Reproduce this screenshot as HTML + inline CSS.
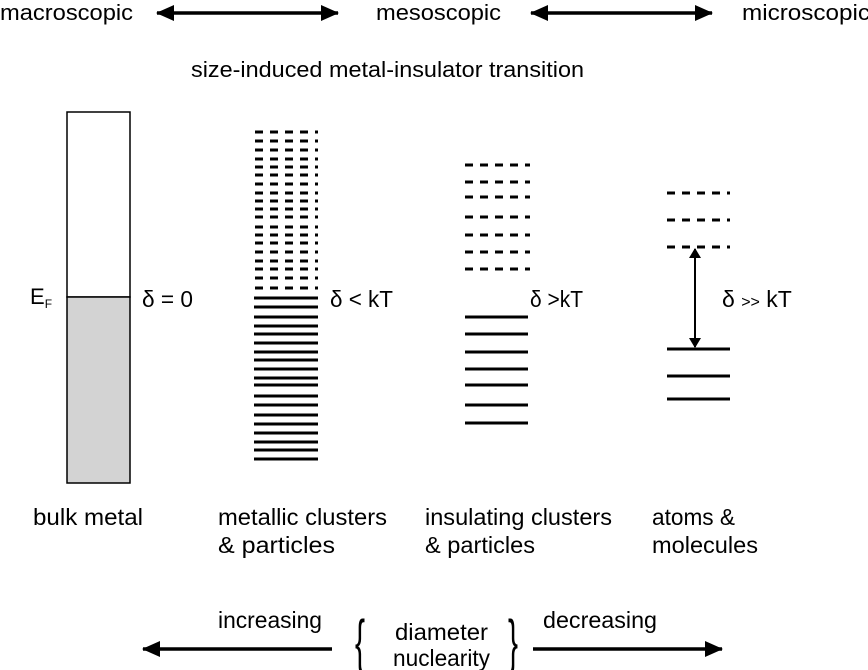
<!DOCTYPE html>
<html><head><meta charset="utf-8"><style>
html,body{margin:0;padding:0;background:#fff}
svg{display:block}
text{font-family:"Liberation Sans",Arial,sans-serif;fill:#000}
</style></head><body>
<svg id="s" width="868" height="670" viewBox="0 0 868 670">
<defs>
<marker id="ah" markerWidth="10" markerHeight="12" refX="9" refY="6" orient="auto-start-reverse" markerUnits="userSpaceOnUse"><path d="M0,0 L10,6 L0,12 z" fill="#000"/></marker>
<marker id="ah2" markerWidth="18" markerHeight="16" refX="17" refY="8" orient="auto-start-reverse" markerUnits="userSpaceOnUse"><path d="M0,0 L18,8 L0,16 z" fill="#000"/></marker>
</defs>
<text x="0" y="20" font-size="22" textLength="133" lengthAdjust="spacingAndGlyphs">macroscopic</text>
<line x1="157" y1="13" x2="338" y2="13" stroke="#000" stroke-width="3.5" marker-start="url(#ah2)" marker-end="url(#ah2)"/>
<text x="376" y="20" font-size="22" textLength="125" lengthAdjust="spacingAndGlyphs">mesoscopic</text>
<line x1="531" y1="13" x2="712" y2="13" stroke="#000" stroke-width="3.5" marker-start="url(#ah2)" marker-end="url(#ah2)"/>
<text x="742" y="20" font-size="22" textLength="128" lengthAdjust="spacingAndGlyphs">microscopic</text>
<text x="191" y="77" font-size="22" textLength="393" lengthAdjust="spacingAndGlyphs">size-induced metal-insulator transition</text>

<rect x="67" y="112" width="63" height="185" fill="#fff" stroke="#000" stroke-width="1.5"/>
<rect x="67" y="297" width="63" height="186" fill="#d3d3d3" stroke="#000" stroke-width="1.5"/>
<text x="30" y="304" font-size="22">E<tspan font-size="12" dy="4">F</tspan></text>
<text x="142" y="307" font-size="23" textLength="51" lengthAdjust="spacingAndGlyphs">δ = 0</text>
<text x="330" y="307" font-size="23" textLength="63" lengthAdjust="spacingAndGlyphs">δ &lt; kT</text>
<text x="530" y="307" font-size="23" textLength="53" lengthAdjust="spacingAndGlyphs">δ &gt;kT</text>
<text x="722" y="307" font-size="23">δ <tspan font-size="16">&gt;&gt;</tspan> kT</text>
<line x1="695" y1="249" x2="695" y2="347" stroke="#000" stroke-width="2" marker-start="url(#ah)" marker-end="url(#ah)"/>
<g id="levels"></g>

<text x="33" y="525" font-size="23" textLength="110" lengthAdjust="spacingAndGlyphs">bulk metal</text>
<text x="218" y="525" font-size="23" textLength="169" lengthAdjust="spacingAndGlyphs">metallic clusters</text>
<text x="218" y="553" font-size="23" textLength="117" lengthAdjust="spacingAndGlyphs">&amp; particles</text>
<text x="425" y="525" font-size="23" textLength="187" lengthAdjust="spacingAndGlyphs">insulating clusters</text>
<text x="425" y="553" font-size="23" textLength="110" lengthAdjust="spacingAndGlyphs">&amp; particles</text>
<text x="652" y="525" font-size="23" textLength="83" lengthAdjust="spacingAndGlyphs">atoms &amp;</text>
<text x="652" y="553" font-size="23" textLength="106" lengthAdjust="spacingAndGlyphs">molecules</text>

<line x1="332" y1="649" x2="143" y2="649" stroke="#000" stroke-width="3.5" marker-end="url(#ah2)"/>
<text x="218" y="628" font-size="23" textLength="104" lengthAdjust="spacingAndGlyphs">increasing</text>
<text x="355" y="662" font-size="60" transform="translate(355 0) scale(0.5 1) translate(-355 0)">{</text>
<text x="395" y="640" font-size="23" textLength="93" lengthAdjust="spacingAndGlyphs">diameter</text>
<text x="393" y="666" font-size="23" textLength="97" lengthAdjust="spacingAndGlyphs">nuclearity</text>
<text x="508" y="662" font-size="60" transform="translate(508 0) scale(0.5 1) translate(-508 0)">}</text>
<text x="543" y="628" font-size="23" textLength="114" lengthAdjust="spacingAndGlyphs">decreasing</text>
<line x1="533" y1="649" x2="722" y2="649" stroke="#000" stroke-width="3.5" marker-end="url(#ah2)"/>
</svg>
<script>
const metDashed=[132,141,150,159,167,175,184,193,201,209,217,227,235,243,252,261,269,278,288];
const metSolid=[298,307,317,326,334,343,352,360,369,378,385,396,405,415,424,433,442,450,459];
const insDashed=[165,182,197,217,235,252,269];
const insSolid=[317,334,352,369,385,405,423];
const atDashed=[193,220,247];
const atSolid=[349,376,399];
const g=document.getElementById('levels');
function lv(ys,x1,x2,dashed,name){
  ys.forEach(y=>{
    const l=document.createElementNS('http://www.w3.org/2000/svg','line');
    l.setAttribute('x1',x1);l.setAttribute('x2',x2);
    l.setAttribute('y1',y);l.setAttribute('y2',y);
    l.setAttribute('stroke','#000');l.setAttribute('stroke-width','3');
    if(dashed)l.setAttribute('stroke-dasharray','8 7');
    
    
    g.appendChild(l);
  });
}
lv(metDashed,255,318,true,'metallic-empty-level');
lv(metSolid,254,318,false,'metallic-filled-level');
lv(insDashed,465,530,true,'insulating-empty-level');
lv(insSolid,465,528,false,'insulating-filled-level');
lv(atDashed,667,730,true,'atom-empty-level');
lv(atSolid,667,730,false,'atom-filled-level');
</script>
</body></html>
